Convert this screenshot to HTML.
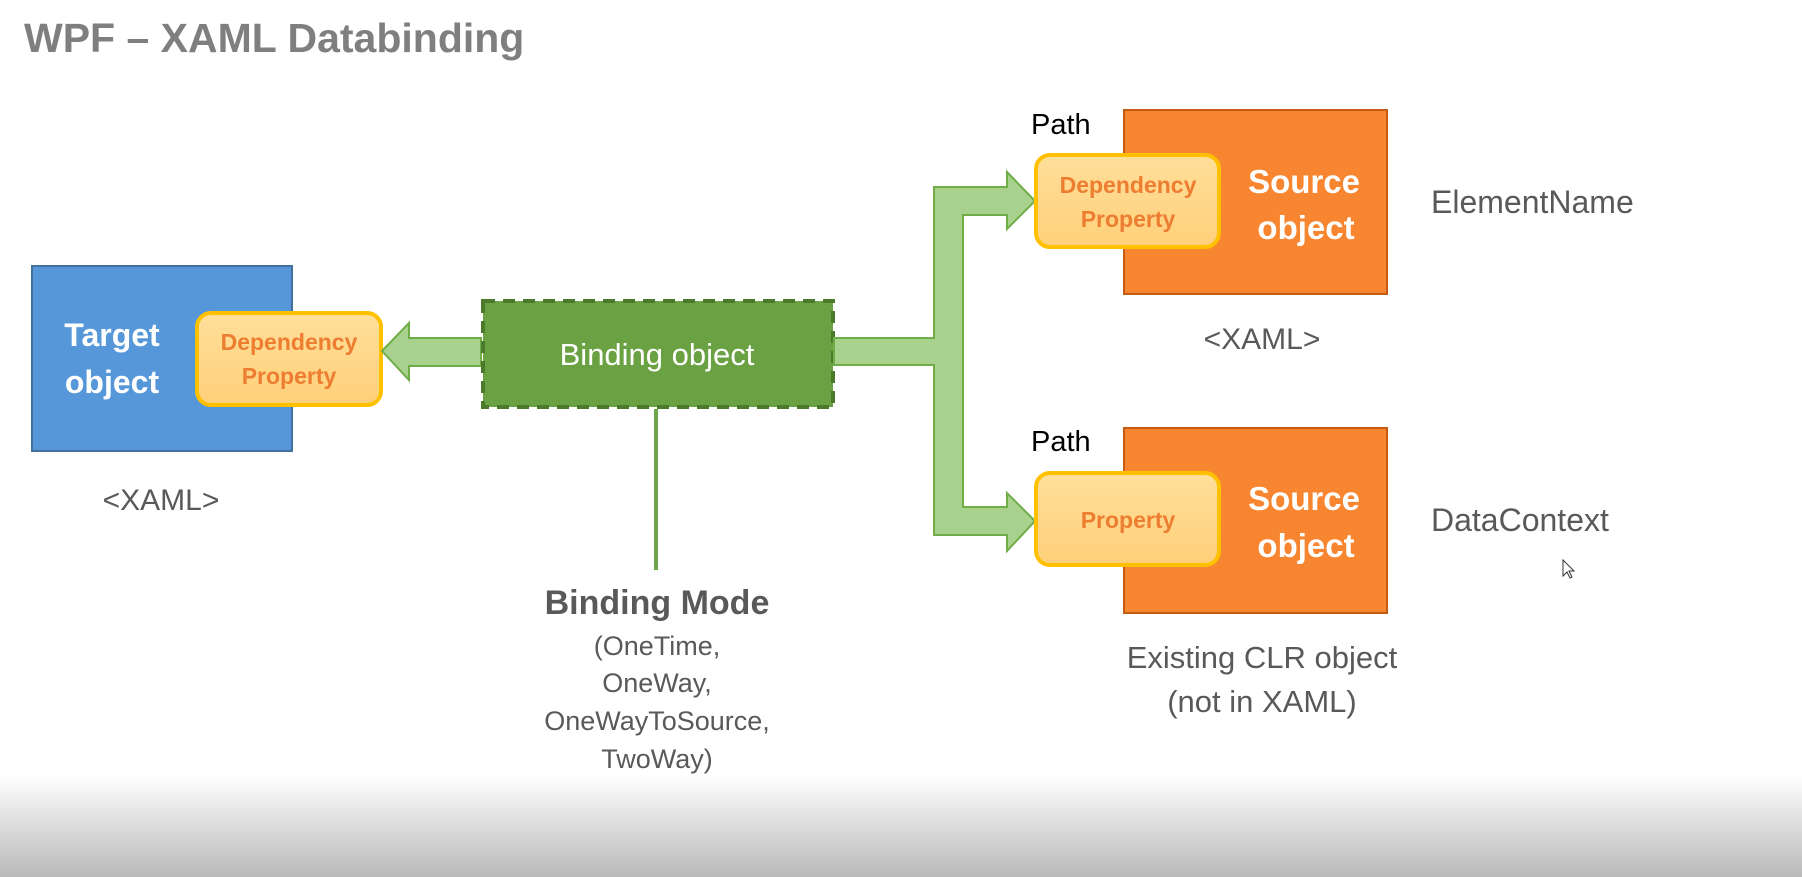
<!DOCTYPE html>
<html><head><meta charset="utf-8"><style>
html,body{margin:0;padding:0;width:1802px;height:877px;overflow:hidden;background:#fff}
svg{display:block}
text{font-family:"Liberation Sans",sans-serif}
</style></head><body>
<svg width="1802" height="877" viewBox="0 0 1802 877" xmlns="http://www.w3.org/2000/svg">
<defs>
<linearGradient id="bg" x1="0" y1="0" x2="0" y2="1">
<stop offset="0" stop-color="#ffffff"/><stop offset="1" stop-color="#b9b9b9"/></linearGradient>
<linearGradient id="dp" x1="0" y1="0" x2="0" y2="1">
<stop offset="0" stop-color="#ffdf9a"/><stop offset="1" stop-color="#ffd07a"/></linearGradient>
</defs>
<rect x="0" y="775" width="1802" height="102" fill="url(#bg)"/>
<text x="24" y="52" font-size="41" font-weight="bold" fill="#7f7f7f">WPF – XAML Databinding</text>

<!-- Target -->
<rect x="32" y="266" width="260" height="185" fill="#5597d8" stroke="#41719c" stroke-width="2"/>
<text x="112" y="346" font-size="32" font-weight="bold" fill="#fff" text-anchor="middle">Target</text>
<text x="112" y="393" font-size="32" font-weight="bold" fill="#fff" text-anchor="middle">object</text>
<rect x="197" y="313" width="184" height="92" rx="14" fill="url(#dp)" stroke="#ffc000" stroke-width="4"/>
<text x="289" y="350" font-size="23" font-weight="bold" fill="#ed7d31" text-anchor="middle">Dependency</text>
<text x="289" y="384" font-size="23" font-weight="bold" fill="#ed7d31" text-anchor="middle">Property</text>
<text x="161" y="510" font-size="30" fill="#595959" text-anchor="middle">&lt;XAML&gt;</text>

<!-- left arrow -->
<polygon points="382,351 409,323 409,338 481,338 481,366 409,366 409,380" fill="#a9d18e" stroke="#70ad47" stroke-width="2"/>

<!-- binding box -->
<rect x="483" y="301" width="350" height="106" fill="#6aa142" stroke="#4b7a2a" stroke-width="4" stroke-dasharray="12,8"/>
<text x="657" y="365" font-size="31" fill="#fff" text-anchor="middle">Binding object</text>
<line x1="656" y1="409" x2="656" y2="570" stroke="#70a64a" stroke-width="4"/>

<!-- right connector -->
<polygon points="834,338 934,338 934,187 1007,187 1007,172 1035,201 1007,229 1007,215 963,215 963,507 1007,507 1007,493 1035,521 1007,551 1007,535 934,535 934,365 834,365" fill="#a9d18e" stroke="#70ad47" stroke-width="2"/>

<!-- top source -->
<rect x="1124" y="110" width="263" height="184" fill="#f88530" stroke="#c55a11" stroke-width="2"/>
<text x="1031" y="134" font-size="29" fill="#000">Path</text>
<rect x="1036" y="155" width="183" height="92" rx="14" fill="url(#dp)" stroke="#ffc000" stroke-width="4"/>
<text x="1128" y="193" font-size="23" font-weight="bold" fill="#ed7d31" text-anchor="middle">Dependency</text>
<text x="1128" y="227" font-size="23" font-weight="bold" fill="#ed7d31" text-anchor="middle">Property</text>
<text x="1304" y="193" font-size="33" font-weight="bold" fill="#fff" text-anchor="middle">Source</text>
<text x="1306" y="239" font-size="33" font-weight="bold" fill="#fff" text-anchor="middle">object</text>
<text x="1431" y="213" font-size="32" fill="#595959">ElementName</text>
<text x="1262" y="349" font-size="30" fill="#595959" text-anchor="middle">&lt;XAML&gt;</text>

<!-- bottom source -->
<rect x="1124" y="428" width="263" height="185" fill="#f88530" stroke="#c55a11" stroke-width="2"/>
<text x="1031" y="451" font-size="29" fill="#000">Path</text>
<rect x="1036" y="473" width="183" height="92" rx="14" fill="url(#dp)" stroke="#ffc000" stroke-width="4"/>
<text x="1128" y="528" font-size="23" font-weight="bold" fill="#ed7d31" text-anchor="middle">Property</text>
<text x="1304" y="510" font-size="33" font-weight="bold" fill="#fff" text-anchor="middle">Source</text>
<text x="1306" y="557" font-size="33" font-weight="bold" fill="#fff" text-anchor="middle">object</text>
<text x="1431" y="531" font-size="32" fill="#595959">DataContext</text>
<text x="1262" y="668" font-size="31" fill="#595959" text-anchor="middle">Existing CLR object</text>
<text x="1262" y="712" font-size="31" fill="#595959" text-anchor="middle">(not in XAML)</text>
<path d="M1563,560 L1563,576 L1567,572 L1570,578 L1572,577 L1569,571 L1574,571 Z" fill="#fff" stroke="#333" stroke-width="1"/>

<!-- binding mode -->
<text x="657" y="614" font-size="34" font-weight="bold" fill="#595959" text-anchor="middle">Binding Mode</text>
<text x="657" y="655" font-size="27" fill="#595959" text-anchor="middle">(OneTime,</text>
<text x="657" y="692" font-size="27" fill="#595959" text-anchor="middle">OneWay,</text>
<text x="657" y="730" font-size="27" fill="#595959" text-anchor="middle">OneWayToSource,</text>
<text x="657" y="768" font-size="27" fill="#595959" text-anchor="middle">TwoWay)</text>
</svg>
</body></html>
